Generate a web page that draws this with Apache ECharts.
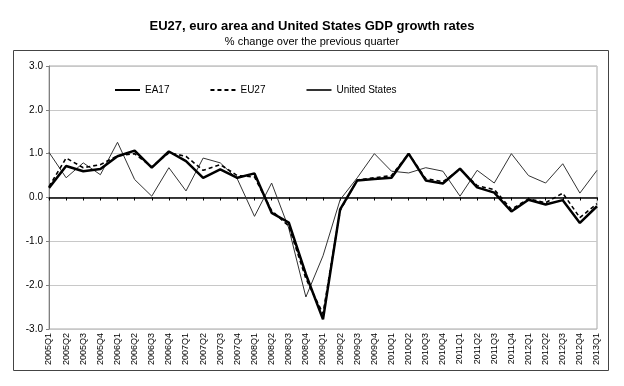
<!DOCTYPE html>
<html>
<head>
<meta charset="utf-8">
<script src="https://cdn.jsdelivr.net/npm/echarts@6/dist/echarts.min.js"></script>
<style>
html,body{margin:0;padding:0;background:#fff;}
#c{width:624px;height:386px;}
</style>
</head>
<body>
<div id="c"></div>
<script>
var quarters = ['2005Q1','2005Q2','2005Q3','2005Q4','2006Q1','2006Q2','2006Q3','2006Q4',
  '2007Q1','2007Q2','2007Q3','2007Q4','2008Q1','2008Q2','2008Q3','2008Q4',
  '2009Q1','2009Q2','2009Q3','2009Q4','2010Q1','2010Q2','2010Q3','2010Q4',
  '2011Q1','2011Q2','2011Q3','2011Q4','2012Q1','2012Q2','2012Q3','2012Q4','2013Q1'];
var ea17 = [0.22,0.72,0.60,0.65,0.94,1.07,0.68,1.05,0.83,0.45,0.64,0.45,0.55,-0.35,-0.57,-1.75,
  -2.78,-0.27,0.39,0.42,0.45,1.0,0.39,0.32,0.66,0.23,0.11,-0.32,-0.05,-0.16,-0.06,-0.58,-0.2];
var eu27 = [0.25,0.9,0.68,0.75,0.95,1.0,0.7,1.02,0.94,0.62,0.75,0.5,0.47,-0.3,-0.65,-1.85,
  -2.65,-0.3,0.4,0.45,0.5,1.0,0.43,0.36,0.64,0.27,0.18,-0.27,-0.03,-0.12,0.1,-0.46,-0.14];
var us = [1.03,0.45,0.79,0.52,1.26,0.41,0.03,0.68,0.15,0.9,0.79,0.42,-0.43,0.33,-0.7,-2.27,
  -1.33,-0.05,0.45,1.0,0.6,0.56,0.68,0.6,0.03,0.62,0.33,1.0,0.5,0.33,0.77,0.1,0.62];
var yTicks = [-3,-2,-1,0,1,2,3];

var chart = echarts.init(document.getElementById('c'));
var font = 'Liberation Sans, Arial, sans-serif';
chart.setOption({
  animation:false,
  textStyle:{fontFamily:font},
  title:{
    text:'EU27, euro area and United States GDP growth rates',
    subtext:'% change over the previous quarter',
    left:'center', top:15, itemGap:3,
    textStyle:{fontSize:13,fontWeight:'bold',color:'#000',fontFamily:font},
    subtextStyle:{fontSize:11,color:'#000',fontFamily:font}
  },
  graphic:[{type:'rect',shape:{x:13.5,y:50.5,width:595,height:320},
    style:{fill:'none',stroke:'#444',lineWidth:1},z:-1}],
  legend:{
    left:109, top:80, itemWidth:25, itemHeight:10, itemGap:40,
    itemStyle:{opacity:0},
    textStyle:{fontSize:10,color:'#000',fontFamily:font},
    data:['EA17','EU27','United States']
  },
  grid:{left:49,right:27,top:66,bottom:57,show:true,borderColor:'#a8a8a8',borderWidth:1},
  xAxis:[{
    type:'category', data:quarters, boundaryGap:false, position:'bottom',
    axisLine:{onZero:false,show:false}, axisTick:{show:false},
    axisLabel:{rotate:90,fontSize:9,color:'#000',margin:4,interval:0,fontFamily:font},
    splitLine:{show:false}
  },{
    type:'category', data:quarters, boundaryGap:false, position:'bottom',
    axisLine:{onZero:true,show:true,lineStyle:{color:'#000',width:1.5}},
    axisTick:{show:true,length:3,interval:0,lineStyle:{color:'#000',width:1}},
    axisLabel:{show:false}, splitLine:{show:false}
  }],
  yAxis:{
    type:'value', min:yTicks[0], max:yTicks[yTicks.length-1], interval:1,
    axisLine:{show:true,lineStyle:{color:'#808080',width:1}},
    axisTick:{show:true,length:3,lineStyle:{color:'#808080'}},
    axisLabel:{fontSize:10,color:'#000',margin:6,formatter:function(v){return v.toFixed(1);},fontFamily:font},
    splitLine:{lineStyle:{color:'#c8c8c8',width:1}}
  },
  series:[
    {name:'EA17',type:'line',data:ea17,symbol:'none',z:4,
      lineStyle:{color:'#000',width:2.5},itemStyle:{color:'#000'}},
    {name:'EU27',type:'line',data:eu27,symbol:'none',z:3,
      lineStyle:{color:'#000',width:1.6,type:[4,3]},itemStyle:{color:'#000'}},
    {name:'United States',type:'line',data:us,symbol:'none',z:2,
      lineStyle:{color:'#333',width:1},itemStyle:{color:'#808080'}}
  ]
});
</script>
</body>
</html>
